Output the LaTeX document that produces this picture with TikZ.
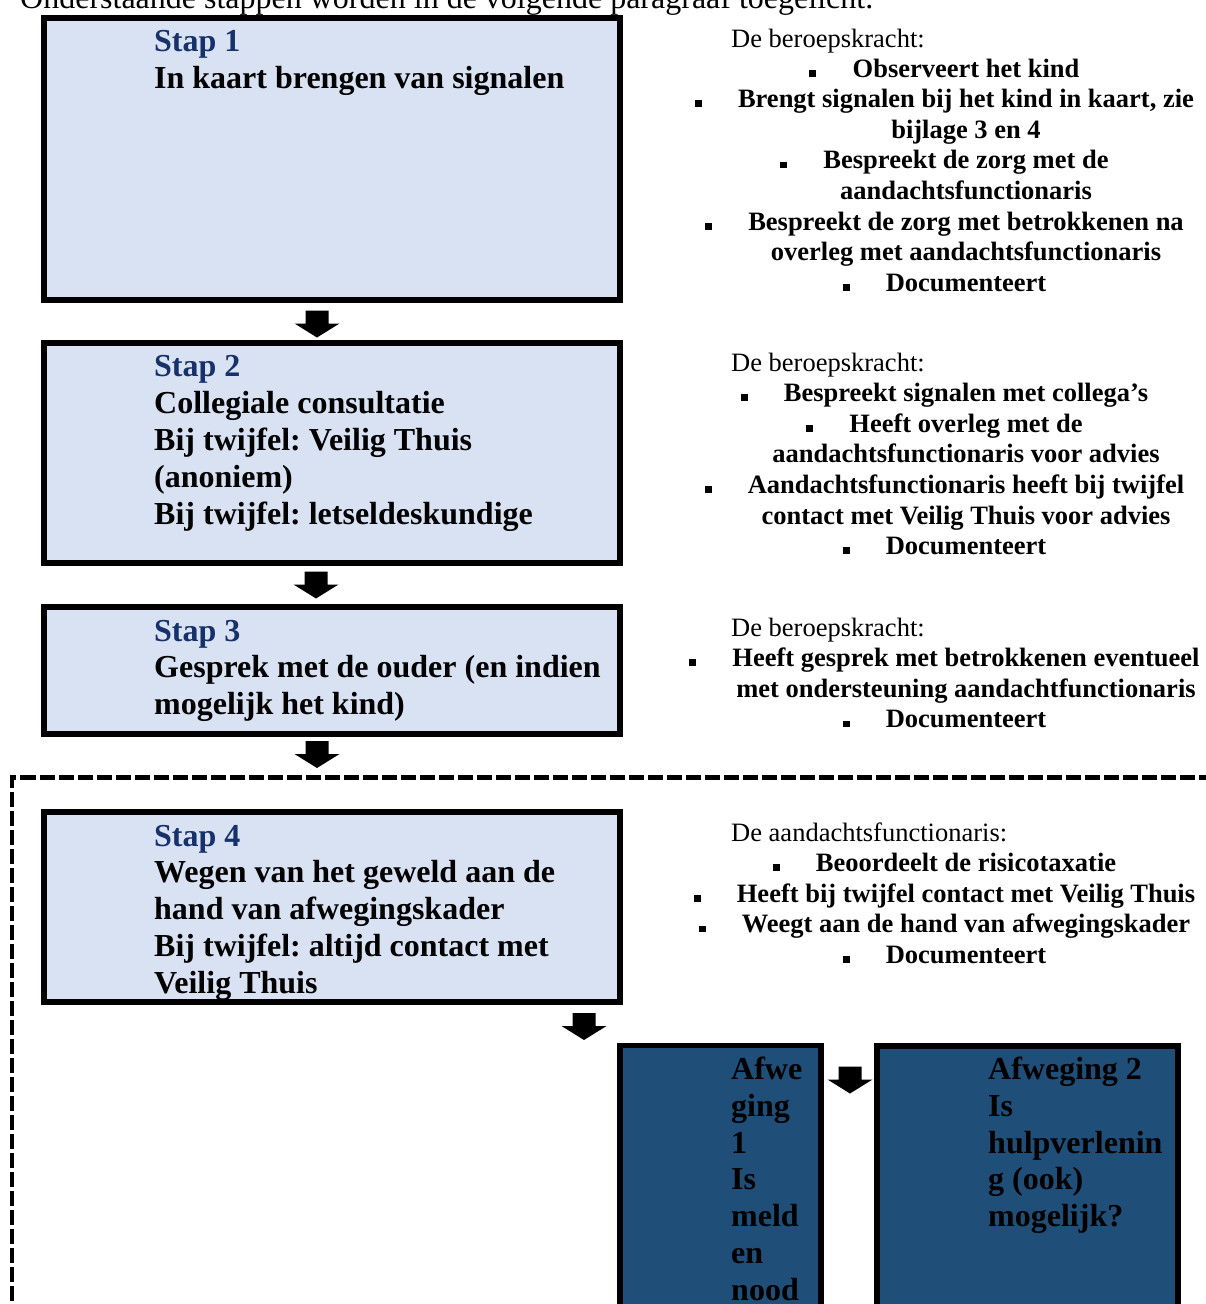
\documentclass[tikz,border=0pt]{standalone}
\usepackage{fontspec}
\setmainfont{Liberation Serif}
\frenchspacing
\definecolor{lightfill}{HTML}{D9E2F3}
\definecolor{darkfill}{HTML}{1F4E79}
\definecolor{navy}{HTML}{17326A}
\newcommand\rbul[3]{\node[rtxt] (#1) at (966,#2) {#3};
  \fill ([xshift=-43pt,yshift=0.5pt]#1.base west) rectangle ++(7pt,6.8pt);}
\newcommand\rcont[3]{\node[rtxt] (#1) at (966,#2) {#3};}
\newcommand\barrow[3]{\coordinate (#1) at (#2,#3);
  \fill ([xshift=-11.5pt]#1) -- ([xshift=11.5pt]#1) -- ([xshift=11.5pt,yshift=-13pt]#1)
   -- ([xshift=22.5pt,yshift=-13pt]#1) -- ([yshift=-27pt]#1) -- ([xshift=-22.5pt,yshift=-13pt]#1)
   -- ([xshift=-11.5pt,yshift=-13pt]#1) -- cycle;}
\begin{document}
\begin{tikzpicture}[x=1pt,y=-1pt,
  lbox/.style={draw=black, line width=6pt, fill=lightfill, inner sep=0pt, outer sep=0pt, anchor=north west},
  dbox/.style={draw=black, line width=5.5pt, fill=darkfill, inner sep=0pt, outer sep=0pt, anchor=north west},
  btxt/.style={anchor=base west, inner sep=0pt, align=left, font=\fontsize{32}{36.8}\selectfont\bfseries\frenchspacing},
  rtxt/.style={anchor=base, inner sep=0pt, font=\fontsize{26.5}{30.6}\selectfont\bfseries},
  rhead/.style={anchor=base west, inner sep=0pt, font=\fontsize{26.5}{30.6}\selectfont},
]
\useasboundingbox (0,0) rectangle (1206,1304);
\clip (0,0) rectangle (1206,1304);
\fill[white] (0,0) rectangle (1206,1304);

% intro line
\node[anchor=base west, inner sep=0pt, font=\fontsize{32}{36.8}\selectfont] (intro) at (20,8.7)
  {Onderstaande stappen worden in de volgende paragraaf toegelicht.};

% dashed frame
\draw[line width=4.5pt, dash pattern=on 15pt off 4pt] (12,1320) -- (12,777.5) -- (1220,777.5);

% step boxes
\node[lbox, minimum width=575.7pt, minimum height=282pt] (b1) at (44,17.7) {};
\node[lbox, minimum width=575.7pt, minimum height=220pt] (b2) at (44,343) {};
\node[lbox, minimum width=575.7pt, minimum height=127pt] (b3) at (44,607.3) {};
\node[lbox, minimum width=575.7pt, minimum height=189.7pt] (b4) at (44,812.3) {};

% (anchor = baseline of the last line)
\node[btxt] (t1) at (154,88.3) {\textcolor{navy}{Stap 1}\\In kaart brengen van signalen};
\node[btxt] (t2) at (154,524) {\textcolor{navy}{Stap 2}\\Collegiale consultatie\\Bij twijfel: Veilig Thuis\\(anoniem)\\Bij twijfel: letseldeskundige};
\node[btxt] (t3) at (154,714.6) {\textcolor{navy}{Stap 3}\\Gesprek met de ouder (en indien\\mogelijk het kind)};
\node[btxt] (t4) at (154,993.2) {\textcolor{navy}{Stap 4}\\Wegen van het geweld aan de\\hand van afwegingskader\\Bij twijfel: altijd contact met\\Veilig Thuis};

% dark boxes
\node[dbox, minimum width=201pt, minimum height=300pt] (da) at (620,1045.5) {};
\node[dbox, minimum width=301pt, minimum height=300pt] (db) at (877,1046) {};
\node[btxt] (ta) at (731,1300.3) {Afwe\\ging\\1\\Is\\meld\\en\\nood};
\node[btxt] (tb) at (988,1226.7) {Afweging 2\\Is\\hulpverlenin\\g (ook)\\mogelijk?};

% block arrows
\barrow{a1}{317}{310.5}
\barrow{a2}{316}{571.5}
\barrow{a3}{317}{741}
\barrow{a4}{584}{1013}
\barrow{a5}{850}{1066.5}

% right column, block 1
\node[rhead] (h1) at (731,47) {De beroepskracht:};
\rbul{r11}{77}{Observeert het kind}
\rbul{r12}{107.6}{Brengt signalen bij het kind in kaart, zie}
\rcont{r13}{138.2}{bijlage 3 en 4}
\rbul{r14}{168.8}{Bespreekt de zorg met de}
\rcont{r15}{199.4}{aandachtsfunctionaris}
\rbul{r16}{230}{Bespreekt de zorg met betrokkenen na}
\rcont{r17}{260.6}{overleg met aandachtsfunctionaris}
\rbul{r18}{291.2}{Documenteert}

% block 2
\node[rhead] (h2) at (731,371) {De beroepskracht:};
\rbul{r21}{401.6}{Bespreekt signalen met collega’s}
\rbul{r22}{432.2}{Heeft overleg met de}
\rcont{r23}{462.8}{aandachtsfunctionaris voor advies}
\rbul{r24}{493.4}{Aandachtsfunctionaris heeft bij twijfel}
\rcont{r25}{524}{contact met Veilig Thuis voor advies}
\rbul{r26}{554.6}{Documenteert}

% block 3
\node[rhead] (h3) at (731,636) {De beroepskracht:};
\rbul{r31}{666.6}{Heeft gesprek met betrokkenen eventueel}
\rcont{r32}{697.2}{met ondersteuning aandachtfunctionaris}
\rbul{r33}{727.8}{Documenteert}

% block 4
\node[rhead] (h4) at (731,841) {De aandachtsfunctionaris:};
\rbul{r41}{871.6}{Beoordeelt de risicotaxatie}
\rbul{r42}{902.2}{Heeft bij twijfel contact met Veilig Thuis}
\rbul{r43}{932.8}{Weegt aan de hand van afwegingskader}
\rbul{r44}{963.4}{Documenteert}
\end{tikzpicture}
\end{document}
